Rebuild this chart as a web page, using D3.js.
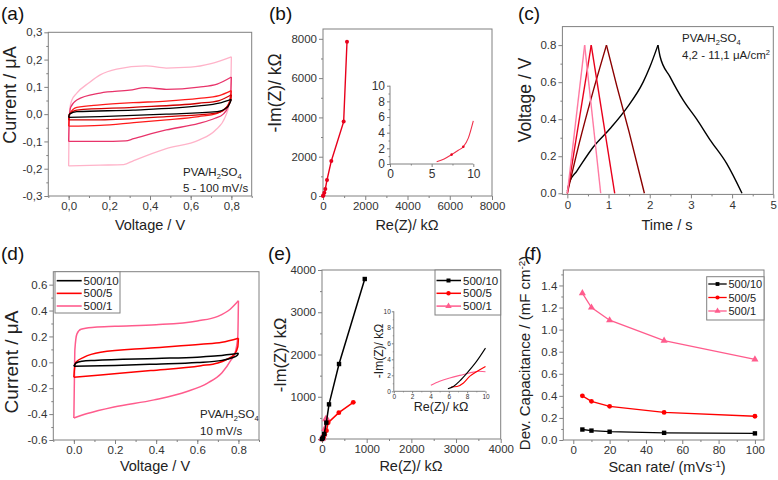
<!DOCTYPE html>
<html><head><meta charset="utf-8">
<script src="https://cdn.jsdelivr.net/npm/d3@7"></script>
<style>body{margin:0;background:#fff}svg{display:block;font-family:"Liberation Sans",Arial,sans-serif}</style>
</head><body>
<script>
// ---------- DATA ----------
// (a) CV loops, PVA/H2SO4, 5-100 mV/s  [V, I(µA)]; Up = forward scan, Lo = reverse scan
const cvA5Up   = [[0,-0.012],[0.004,0.0],[0.04,0.009],[0.317,0.015],[0.64,0.030],[0.74,0.04],[0.8,0.054]];
const cvA5Lo   = [[0,-0.012],[0.155,-0.009],[0.48,0.0],[0.73,0.009],[0.78,0.025],[0.8,0.054]];
const cvA10Up  = [[0,-0.021],[0.004,0.0],[0.04,0.015],[0.317,0.025],[0.64,0.040],[0.74,0.05],[0.8,0.071]];
const cvA10Lo  = [[0,-0.021],[0.155,-0.021],[0.48,-0.009],[0.73,0.005],[0.78,0.028],[0.797,0.05],[0.8,0.071]];
const cvA20Up  = [[0,-0.044],[0.004,0.0],[0.04,0.025],[0.155,0.034],[0.317,0.042],[0.48,0.048],[0.64,0.058],[0.74,0.068],[0.8,0.086]];
const cvA20Lo  = [[0,-0.044],[0.155,-0.041],[0.32,-0.031],[0.48,-0.021],[0.64,-0.009],[0.73,0.003],[0.775,0.025],[0.795,0.055],[0.8,0.086]];
const cvA50Up  = [[0,-0.1],[0.003,-0.02],[0.01,0.025],[0.04,0.052],[0.155,0.077],[0.3,0.088],[0.38,0.097],[0.48,0.091],[0.64,0.099],[0.73,0.11],[0.8,0.136]];
const cvA50Lo  = [[0,-0.1],[0.155,-0.1],[0.28,-0.098],[0.32,-0.09],[0.48,-0.058],[0.64,-0.034],[0.72,-0.015],[0.76,0.0],[0.785,0.03],[0.797,0.07],[0.8,0.136]];
const cvA100Up = [[0,-0.19],[0.002,-0.05],[0.006,0.02],[0.015,0.05],[0.04,0.077],[0.1,0.115],[0.155,0.144],[0.236,0.165],[0.38,0.177],[0.48,0.169],[0.6,0.172],[0.7,0.185],[0.8,0.21]];
const cvA100Lo = [[0,-0.19],[0.155,-0.187],[0.27,-0.185],[0.32,-0.17],[0.48,-0.126],[0.64,-0.095],[0.72,-0.06],[0.77,-0.01],[0.79,0.04],[0.798,0.12],[0.8,0.21]];
const aTicksX = [0,0.2,0.4,0.6,0.8];
const aTicksY = [-0.3,-0.2,-0.1,0,0.1,0.2,0.3];

// (b) Nyquist
const bRe = [0,16,63,110,189,394,978,1136];
const bIm = [0,34,170,357,815,1783,3787,7847];
const bInRe = [5.6,6.5,7.4,8.2,8.8,9.4,10];
const bInIm = [0.3,0.65,1.2,1.75,2.2,3.3,5.5];
const bTicks = [0,2000,4000,6000,8000];

// (c) galvanostatic charge/discharge [t, V]
const gcdPink  = [[0,0],[0.42,0.8],[0.81,0]];
const gcdRed   = [[0,0],[0.58,0.8],[1.15,0]];
const gcdDark  = [[0,0],[0.3,0.28],[0.6,0.53],[0.95,0.8],[1.2,0.58],[1.5,0.33],[1.87,0]];
const gcdBlack = [[0,0.01],[0.05,0.06],[0.23,0.12],[0.63,0.25],[1.04,0.35],[1.44,0.46],[1.84,0.6],[2.0,0.68],[2.2,0.8],[2.25,0.74],[2.49,0.63],[2.82,0.5],[3.14,0.4],[3.46,0.29],[3.87,0.16],[4.24,0]];

// (d) CV loops at 10 mV/s
const cvD10Up = [[0,-0.03],[0.01,-0.005],[0.04,0.008],[0.1,0.015],[0.4,0.03],[0.6,0.04],[0.7,0.05],[0.8,0.07]];
const cvD10Lo = [[0,-0.03],[0.2,-0.024],[0.4,-0.014],[0.6,-0.002],[0.72,0.015],[0.77,0.035],[0.795,0.055],[0.8,0.07]];
const cvD5Up  = [[0,-0.115],[0.003,-0.05],[0.01,0.0],[0.05,0.04],[0.13,0.077],[0.374,0.11],[0.618,0.14],[0.72,0.155],[0.8,0.186]];
const cvD5Lo  = [[0,-0.115],[0.13,-0.097],[0.374,-0.064],[0.618,-0.026],[0.7,-0.005],[0.74,0.02],[0.78,0.06],[0.797,0.12],[0.8,0.186]];
const cvD1Up  = [[0,-0.43],[0.002,-0.2],[0.005,0.1],[0.015,0.22],[0.035,0.255],[0.1,0.27],[0.2,0.278],[0.4,0.29],[0.6,0.32],[0.7,0.355],[0.76,0.41],[0.8,0.475]];
const cvD1Lo  = [[0,-0.43],[0.065,-0.396],[0.195,-0.345],[0.39,-0.29],[0.55,-0.225],[0.65,-0.16],[0.72,-0.08],[0.765,0.02],[0.785,0.08],[0.797,0.2],[0.8,0.475]];
const dTicksX = [0,0.2,0.4,0.6,0.8];
const dTicksY = [-0.6,-0.4,-0.2,0,0.2,0.4,0.6];
const seriesNames = ["500/10","500/5","500/1"];

// (e) Nyquist for three samples
const eBlackRe = [0,20,50,97,157,381,957];
const eBlackIm = [0,30,120,387,820,1775,3787];
const eRedRe = [0,30,60,100,138,377,700];
const eRedIm = [0,40,110,197,387,623,868];
const ePinkRe = [0,10,25,40,60,80,110];
const ePinkIm = [0,15,45,110,240,470,480];
const eInBlack = [[5.9,0.33],[6.5,0.6],[7.2,1.3],[8.0,2.3],[9,3.7],[10,5.4]];
const eInRed   = [[6.25,0.54],[6.9,0.6],[7.6,1.04],[8.3,1.9],[9.1,2.5],[10,3.1]];
const eInPink  = [[4.04,0.75],[5.0,1.25],[6.1,1.67],[7.6,2.1],[8.7,2.4],[9.3,2.5],[10,2.45]];
const eTicks = [0,1000,2000,3000,4000];

// (f) capacitance vs scan rate
const scanRate = [5,10,20,50,100];
const capBlack = [0.095,0.085,0.075,0.065,0.06];
const capRed   = [0.40,0.35,0.305,0.25,0.215];
const capPink  = [1.33,1.20,1.085,0.90,0.73];
const fTicksX = [0,20,40,60,80,100];
const fTicksY = [0,0.2,0.4,0.6,0.8,1.0,1.2,1.4];

// ---------- DRAW ----------
const FRAME = "#808080", TXT = "#333";
const C_BLACK = "#000000", C_RED = "#ff0000", C_PINK = "#ff5c8d";
const svg = d3.select("body").append("svg").attr("width",778).attr("height",480);
svg.append("rect").attr("width",778).attr("height",480).attr("fill","#fff");

function range(a,b,s){const r=[];for(let v=a;v<=b+1e-9;v+=s)r.push(+v.toFixed(6));return r;}
function styleAxis(sel, fs){
  sel.select(".domain").remove();
  sel.selectAll("line").attr("stroke",FRAME);
  sel.selectAll("text").attr("fill",TXT).style("font-size",(fs||11)+"px").style("font-family","'Liberation Sans',Arial,sans-serif");
}
function panel(p){
  const g = svg.append("g");
  const x = d3.scaleLinear().domain(p.xd).range(p.xr);
  const y = d3.scaleLinear().domain(p.yd).range(p.yr);
  const fs = p.fs||11.5, maj = p.maj||4, min = p.min||2;
  g.append("g").attr("transform",`translate(0,${p.yr[0]})`)
    .call(d3.axisBottom(x).tickValues(p.xMinor).tickSize(min).tickFormat("")).call(s=>styleAxis(s,fs));
  g.append("g").attr("transform",`translate(0,${p.yr[0]})`)
    .call(d3.axisBottom(x).tickValues(p.xMajor).tickSize(maj).tickPadding(p.pad||2).tickFormat(p.fx)).call(s=>styleAxis(s,fs));
  g.append("g").attr("transform",`translate(${p.xr[0]},0)`)
    .call(d3.axisLeft(y).tickValues(p.yMinor).tickSize(min).tickFormat("")).call(s=>styleAxis(s,fs));
  g.append("g").attr("transform",`translate(${p.xr[0]},0)`)
    .call(d3.axisLeft(y).tickValues(p.yMajor).tickSize(maj).tickPadding(p.pad||2).tickFormat(p.fy)).call(s=>styleAxis(s,fs));
  if(p.box!==false){
    g.append("rect").attr("x",p.xr[0]).attr("y",p.yr[1]).attr("width",p.xr[1]-p.xr[0]).attr("height",p.yr[0]-p.yr[1])
      .attr("fill","none").attr("stroke",FRAME).attr("stroke-width",1);
  } else {
    g.append("line").attr("x1",p.xr[0]).attr("x2",p.xr[1]).attr("y1",p.yr[0]).attr("y2",p.yr[0]).attr("stroke",FRAME);
    g.append("line").attr("x1",p.xr[0]).attr("x2",p.xr[0]).attr("y1",p.yr[0]).attr("y2",p.yr[1]).attr("stroke",FRAME);
  }
  return {g,x,y};
}
function label(txt,x,y){svg.append("text").attr("x",x).attr("y",y).text(txt).attr("font-size",19).attr("fill","#111");}
function xTitle(parts,cx,y,fs){
  const t=svg.append("text").attr("x",cx).attr("y",y).attr("text-anchor","middle").attr("font-size",fs||14.5).attr("fill","#222");
  addParts(t,parts,fs||14.5);
}
function yTitle(parts,x,cy,fs){
  const t=svg.append("text").attr("transform",`translate(${x},${cy}) rotate(-90)`).attr("text-anchor","middle").attr("font-size",fs||14.5).attr("fill","#222");
  addParts(t,parts,fs||14.5);
}
function addParts(t,parts,fs){
  let shift=0;
  parts.forEach(p=>{
    if(typeof p==="string"){t.append("tspan").attr("dy",-shift).text(p);shift=0;}
    else if(p.sup!==undefined){const d=-fs*0.35;t.append("tspan").attr("dy",d-shift).attr("font-size",fs*0.65).text(p.sup);shift=d;}
    else if(p.sub!==undefined){const d=fs*0.25;t.append("tspan").attr("dy",d-shift).attr("font-size",fs*0.65).text(p.sub);shift=d;}
  });
}
function pvaText(x,y,fs){
  const t=svg.append("text").attr("x",x).attr("y",y).attr("font-size",fs).attr("fill","#222");
  addParts(t,["PVA/H",{sub:"2"},"SO",{sub:"4"}],fs);
}
function drawLoop(P,up,lo,c,w){
  const line=d3.line().x(d=>P.x(d[0])).y(d=>P.y(d[1])).curve(d3.curveMonotoneX);
  [up,lo].forEach(d=>P.g.append("path").attr("d",line(d)).attr("fill","none").attr("stroke",c).attr("stroke-width",w).attr("stroke-linejoin","round"));
}
const comma = d=>d3.format(".1f")(d).replace(".",",").replace("−","-");
const dot1 = d=>d3.format(".1f")(d).replace("−","-");
const intF = d=>d3.format("d")(d);

// ---- (a)
{
  const P = panel({xr:[48.3,251.7],yr:[196,32.3],xd:[-0.1,0.9],yd:[-0.3,0.3],
    xMajor:aTicksX,xMinor:range(-0.1,0.9,0.1),yMajor:aTicksY,yMinor:range(-0.25,0.25,0.1),fx:comma,fy:comma});
  [[cvA100Up,cvA100Lo,"#ffb3c9"],[cvA50Up,cvA50Lo,"#e8336a"],[cvA20Up,cvA20Lo,"#ff1a1a"],[cvA10Up,cvA10Lo,"#d00000"],[cvA5Up,cvA5Lo,"#000"]]
    .forEach(([u,l,c])=>drawLoop(P,u,l,c,1.3));
  label("(a)",1,20);
  yTitle(["Current / μA"],16,95,18);
  xTitle(["Voltage / V"],150,230);
  pvaText(183,176,11.5);
  svg.append("text").attr("x",183).attr("y",192).attr("font-size",11.5).attr("fill","#222").text("5 - 100 mV/s");
}
// ---- (b)
{
  const P = panel({xr:[323,492],yr:[196,29],xd:[0,8000],yd:[0,8500],
    xMajor:bTicks,xMinor:range(1000,7000,2000),yMajor:bTicks,yMinor:range(1000,7000,2000),fx:intF,fy:intF});
  const pts=bRe.map((r,i)=>[r,bIm[i]]);
  const line=d3.line().x(d=>P.x(d[0])).y(d=>P.y(d[1]));
  P.g.append("path").attr("d",line(pts)).attr("fill","none").attr("stroke","#e8001c").attr("stroke-width",1.4);
  P.g.selectAll("circle.b").data(pts).join("circle").attr("cx",d=>P.x(d[0])).attr("cy",d=>P.y(d[1])).attr("r",2).attr("fill","#e8001c");
  const I = panel({xr:[390,473.3],yr:[164,85.7],xd:[0,10],yd:[0,10],box:false,
    xMajor:[0,5,10],xMinor:[2.5,7.5],yMajor:[0,2,4,6,8,10],yMinor:[1,3,5,7,9],fx:intF,fy:intF,fs:12,maj:3,min:1.5});
  const ip=bInRe.map((r,i)=>[r,bInIm[i]]);
  const l2=d3.line().x(d=>I.x(d[0])).y(d=>I.y(d[1])).curve(d3.curveMonotoneX);
  I.g.append("path").attr("d",l2(ip)).attr("fill","none").attr("stroke","#f0304a").attr("stroke-width",1.1);
  I.g.selectAll("circle").data([ip[2],ip[4]]).join("circle").attr("cx",d=>I.x(d[0])).attr("cy",d=>I.y(d[1])).attr("r",1.3).attr("fill","#e8001c");
  label("(b)",269,20);
  yTitle(["-Im(Z)/ kΩ"],281,93,17.5);
  xTitle(["Re(Z)/ kΩ"],407,230);
}
// ---- (c)
{
  const P = panel({xr:[562.4,773.3],yr:[194.4,26.6],xd:[-0.12,5],yd:[-0.006,0.9],
    xMajor:[0,1,2,3,4,5],xMinor:[0.5,1.5,2.5,3.5,4.5],yMajor:[0,0.2,0.4,0.6,0.8],yMinor:[0.1,0.3,0.5,0.7],fx:intF,fy:dot1});
  const line=d3.line().x(d=>P.x(d[0])).y(d=>P.y(d[1])).curve(d3.curveMonotoneX);
  [[gcdBlack,"#000"],[gcdDark,"#8b0000"],[gcdRed,"#e8001c"],[gcdPink,"#ff7aa2"]].forEach(([d,c])=>{
    const k=d3.maxIndex(d,p=>p[1]);
    [d.slice(0,k+1),d.slice(k)].forEach(seg=>P.g.append("path").attr("d",line(seg)).attr("fill","none").attr("stroke",c).attr("stroke-width",1.4));
  });
  label("(c)",518,20);
  yTitle(["Voltage / V"],531,100,17.5);
  xTitle(["Time / s"],667,230);
  pvaText(682,42,11.5);
  const t=svg.append("text").attr("x",682).attr("y",59).attr("font-size",11.5).attr("fill","#222");
  addParts(t,["4,2 - 11,1 μA/cm",{sup:"2"}],11.5);
}
// ---- (d)
{
  const P = panel({xr:[53.3,259],yr:[440,271.7],xd:[-0.1,0.9],yd:[-0.6,0.7],
    xMajor:dTicksX,xMinor:range(-0.1,0.9,0.1),yMajor:dTicksY,yMinor:range(-0.5,0.5,0.2),fx:dot1,fy:dot1});
  [[cvD1Up,cvD1Lo,C_PINK],[cvD5Up,cvD5Lo,C_RED],[cvD10Up,cvD10Lo,C_BLACK]].forEach(([u,l,c])=>drawLoop(P,u,l,c,1.5));
  const lg=svg.append("g");
  lg.append("rect").attr("x",55).attr("y",271.7).attr("width",65).attr("height",41.3).attr("fill","#fff").attr("stroke",FRAME);
  [C_BLACK,C_RED,C_PINK].forEach((c,i)=>{
    const yy=280.7+i*12.65;
    lg.append("line").attr("x1",56.7).attr("x2",81.7).attr("y1",yy).attr("y2",yy).attr("stroke",c).attr("stroke-width",1.6);
    lg.append("text").attr("x",83.5).attr("y",yy+4).attr("font-size",11.5).attr("fill","#222").text(seriesNames[i]);
  });
  label("(d)",1,260);
  yTitle(["Current / μA"],18,362,19);
  xTitle(["Voltage / V"],155,471);
  pvaText(200,418,11.5);
  svg.append("text").attr("x",200).attr("y",435).attr("font-size",11.5).attr("fill","#222").text("10 mV/s");
}
// ---- markers
function marker(g,shape,x,y,c,s){
  if(shape==="sq") g.append("rect").attr("x",x-s).attr("y",y-s).attr("width",2*s).attr("height",2*s).attr("fill",c);
  else if(shape==="ci") g.append("circle").attr("cx",x).attr("cy",y).attr("r",s*1.1).attr("fill",c);
  else g.append("path").attr("d",d3.symbol(d3.symbolTriangle,s*s*4.5)()).attr("transform",`translate(${x},${y})`).attr("fill",c);
}
// ---- (e)
{
  const P = panel({xr:[322,500.7],yr:[439,270],xd:[0,4000],yd:[0,4000],
    xMajor:eTicks,xMinor:[500,1500,2500,3500],yMajor:eTicks,yMinor:[500,1500,2500,3500],fx:intF,fy:intF});
  const line=d3.line().x(d=>P.x(d[0])).y(d=>P.y(d[1]));
  const sets=[[ePinkRe,ePinkIm,C_PINK,"tr"],[eRedRe,eRedIm,C_RED,"ci"],[eBlackRe,eBlackIm,C_BLACK,"sq"]];
  sets.forEach(([xs,ys,c,sh])=>{
    const pts=xs.map((v,i)=>[v,ys[i]]);
    P.g.append("path").attr("d",line(pts)).attr("fill","none").attr("stroke",c).attr("stroke-width",1.5);
    pts.forEach(d=>marker(P.g,sh,P.x(d[0]),P.y(d[1]),c,2.2));
  });
  const lg=svg.append("g");
  lg.append("rect").attr("x",435).attr("y",270).attr("width",65.7).attr("height",45).attr("fill","#fff").attr("stroke",FRAME);
  [[C_BLACK,"sq"],[C_RED,"ci"],[C_PINK,"tr"]].forEach(([c,sh],i)=>{
    const yy=280.5+i*12.8;
    lg.append("line").attr("x1",436.5).attr("x2",461).attr("y1",yy).attr("y2",yy).attr("stroke",c).attr("stroke-width",1.5);
    marker(lg,sh,448.5,yy,c,2);
    lg.append("text").attr("x",463).attr("y",yy+4).attr("font-size",11.5).attr("fill","#222").text(seriesNames[i]);
  });
  const I = panel({xr:[393.8,485.5],yr:[391.3,311.3],xd:[0,10],yd:[0,10],box:false,
    xMajor:[0,2,4,6,8,10],xMinor:[1,3,5,7,9],yMajor:[0,2,4,6,8,10],yMinor:[1,3,5,7,9],fx:intF,fy:intF,fs:6.5,maj:2,min:1,pad:1});
  const l2=d3.line().x(d=>I.x(d[0])).y(d=>I.y(d[1])).curve(d3.curveMonotoneX);
  [[eInPink,C_PINK],[eInRed,C_RED],[eInBlack,C_BLACK]].forEach(([d,c])=>{
    I.g.append("path").attr("d",l2(d)).attr("fill","none").attr("stroke",c).attr("stroke-width",1.1);
  });
  yTitle(["-Im(Z)/ kΩ"],383,351,12);
  xTitle(["Re(Z)/ kΩ"],441,411,12.5);
  label("(e)",268,260);
  yTitle(["-Im(Z)/ kΩ"],286,355,16.5);
  xTitle(["Re(Z)/ kΩ"],411,471);
}
// ---- (f)
{
  const P = panel({xr:[563.3,764],yr:[440,270],xd:[-5.5,105],yd:[0,1.54],
    xMajor:fTicksX,xMinor:[10,30,50,70,90],yMajor:fTicksY,yMinor:range(0.1,1.5,0.2),fx:intF,fy:dot1});
  const line=d3.line().x(d=>P.x(d[0])).y(d=>P.y(d[1]));
  [[capBlack,C_BLACK,"sq"],[capRed,C_RED,"ci"],[capPink,C_PINK,"tr"]].forEach(([ys,c,sh])=>{
    const pts=scanRate.map((v,i)=>[v,ys[i]]);
    P.g.append("path").attr("d",line(pts)).attr("fill","none").attr("stroke",c).attr("stroke-width",1.3);
    pts.forEach(d=>marker(P.g,sh,P.x(d[0]),P.y(d[1]),c,2.2));
  });
  const lg=svg.append("g");
  lg.append("rect").attr("x",706.7).attr("y",276.7).attr("width",57.3).attr("height",43.3).attr("fill","#fff").attr("stroke",FRAME);
  [[C_BLACK,"sq"],[C_RED,"ci"],[C_PINK,"tr"]].forEach(([c,sh],i)=>{
    const yy=284+i*13.5;
    lg.append("line").attr("x1",708.3).attr("x2",726.7).attr("y1",yy).attr("y2",yy).attr("stroke",c).attr("stroke-width",1.3);
    marker(lg,sh,717.5,yy,c,1.9);
    lg.append("text").attr("x",728.5).attr("y",yy+4).attr("font-size",11).attr("fill","#222").text(seriesNames[i]);
  });
  label("(f)",524,260);
  yTitle(["Dev. Capacitance / (mF cm",{sup:"-2"},")"],530,353,15);
  xTitle(["Scan rate/ (mVs",{sup:"-1"},")"],667,472);
}
</script>
</body></html>
